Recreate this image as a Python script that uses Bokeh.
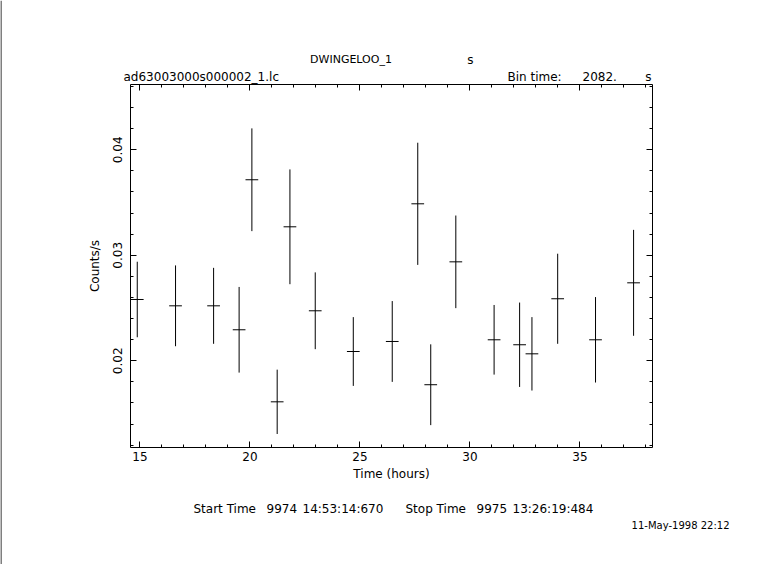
import numpy as np
from bokeh.plotting import figure
from bokeh.models import (Range1d, LinearAxis, SingleIntervalTicker, PrintfTickFormatter,
                          ColumnDataSource)
from bokeh.core.properties import value
from bokeh.embed import file_html
from bokeh.resources import INLINE

# ---- data ----
time_hours = [14.88, 16.62, 18.35, 19.51, 20.09, 21.24, 21.82, 22.97, 24.70, 26.47,
              27.63, 28.22, 29.36, 31.10, 32.26, 32.82, 33.99, 35.71, 37.44]
rate = [0.02581, 0.02521, 0.02521, 0.02294, 0.03716, 0.01611, 0.03270, 0.02474, 0.02088, 0.02183,
        0.03488, 0.01773, 0.02938, 0.02199, 0.02152, 0.02066, 0.02588, 0.02199, 0.02739]
rate_err = [0.00358, 0.00383, 0.00360, 0.00406, 0.00487, 0.00305, 0.00544, 0.00364, 0.00326, 0.00383,
            0.00579, 0.00383, 0.00439, 0.00330, 0.00400, 0.00348, 0.00427, 0.00405, 0.00502]
bin_time_s = 2082.0
half_bin_h = bin_time_s / 2 / 3600.0

title_text = "DWINGELOO_1"
title_unit = "s"
file_text = "ad63003000s000002_1.lc"
bin_label = "Bin time:"
bin_value = "2082."
bin_unit = "s"
start_parts = ["Start Time", "9974", "14:53:14:670"]
stop_parts = ["Stop Time", "9975", "13:26:19:484"]
date_text = "11-May-1998 22:12"
x_label = "Time (hours)"
y_label = "Counts/s"

# ---- layout (pixel positions on the canvas) ----
W, H = 765, 564
BOX_L, BOX_R, BOX_T, BOX_B = 130, 652, 84, 447
X0, X1 = 14.573, 38.30          # time range shown inside the box
Y0, Y1 = 0.01178, 0.04619       # rate range shown inside the box
kx = (X1 - X0) / (BOX_R - BOX_L)
ky = (Y1 - Y0) / (BOX_B - BOX_T)

FONT = "DejaVu Sans"
FS = "12px"

p = figure(width=W, height=H,
           x_range=Range1d(X0 - BOX_L * kx, X1 + (W - BOX_R) * kx),
           y_range=Range1d(Y0 - (H - BOX_B) * ky, Y1 + BOX_T * ky),
           output_backend="svg", toolbar_location=None,
           min_border=0, min_border_left=0, min_border_right=0,
           min_border_top=0, min_border_bottom=0,
           x_axis_location=None, y_axis_location=None)
p.grid.visible = False
p.outline_line_color = None
p.background_fill_color = "white"
p.border_fill_color = "white"
p.extra_x_ranges = {"px": Range1d(0, W)}
p.extra_y_ranges = {"px": Range1d(H, 0)}

xt = SingleIntervalTicker(interval=5, num_minor_ticks=5)
yt = SingleIntervalTicker(interval=0.01, num_minor_ticks=5)


def style_axis(ax, show_labels):
    ax.axis_line_color = "black"
    ax.axis_line_width = 1
    ax.major_tick_line_color = "black"
    ax.minor_tick_line_color = "black"
    ax.major_tick_in = 6
    ax.major_tick_out = 0
    ax.minor_tick_in = 3
    ax.minor_tick_out = 0
    ax.major_label_text_font = FONT
    ax.major_label_text_font_size = FS
    ax.major_label_text_color = "black"
    ax.axis_label_text_font = FONT
    ax.axis_label_text_font_size = FS
    ax.axis_label_text_font_style = "normal"
    ax.axis_label_text_color = "black"
    if not show_labels:
        ax.major_label_text_font_size = "0px"
        ax.major_label_text_alpha = 0
        ax.major_label_standoff = 0


xb = LinearAxis(ticker=xt, axis_label=x_label, bounds=(X0, X1), fixed_location=Y0)
style_axis(xb, True)
xb.major_label_standoff = 4
xb.axis_label_standoff = 3
p.add_layout(xb, "below")

xa = LinearAxis(ticker=xt, bounds=(X0, X1), fixed_location=Y1)
style_axis(xa, False)
p.add_layout(xa, "above")

yl = LinearAxis(ticker=yt, axis_label=y_label, formatter=PrintfTickFormatter(format="%.2f"),
                bounds=(Y0, Y1), fixed_location=X0)
style_axis(yl, True)
yl.major_label_orientation = "vertical"
yl.major_label_standoff = 8
yl.axis_label_standoff = 9
p.add_layout(yl, "left")

yr = LinearAxis(ticker=yt, bounds=(Y0, Y1), fixed_location=X1)
style_axis(yr, False)
p.add_layout(yr, "right")

# ---- error bars ----
t = np.array(time_hours)
r = np.array(rate)
e = np.array(rate_err)
src = ColumnDataSource(dict(t=t, r=r, lo=r - e, hi=r + e, tl=t - half_bin_h, tr=t + half_bin_h))
p.segment(x0="t", y0="lo", x1="t", y1="hi", source=src, line_color="black", line_width=1)
p.segment(x0="tl", y0="r", x1="tr", y1="r", source=src, line_color="black", line_width=1)

# ---- header / footer texts (pixel coordinates) ----
items = [
    (title_text, 350.5, 59, "center", "11px"),
    (title_unit, 470, 59, "center", FS),
    (file_text, 123, 76, "left", FS),
    (bin_label, 507, 76, "left", FS),
    (bin_value, 582, 76, "left", FS),
    (bin_unit, 648, 76, "center", FS),
]
for txt, px in zip(start_parts, [193, 266, 302]):
    items.append((txt, px, 508, "left", FS))
for txt, px in zip(stop_parts, [405, 476, 512]):
    items.append((txt, px, 508, "left", FS))
items.append((date_text, 729, 525, "right", "10px"))

for txt, px, py, align, size in items:
    p.text(x=[px], y=[py], text=[txt], text_align=value(align),
           text_baseline=value("middle"), text_font=value(FONT),
           text_font_size=value(size), text_color="black",
           x_range_name="px", y_range_name="px")

# thin rule at the left edge of the page, as in the reference
p.segment(x0=[0.5], y0=[0], x1=[0.5], y1=[H], line_color="black", line_width=1,
          x_range_name="px", y_range_name="px")

open("out.html", "w").write(file_html(p, INLINE))
